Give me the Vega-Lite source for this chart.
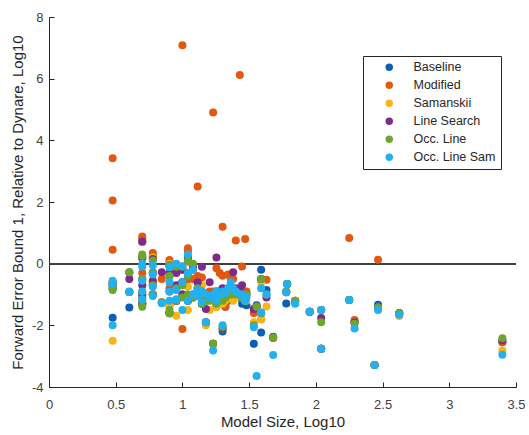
{
  "$schema": "https://vega.github.io/schema/vega-lite/v6.json",
  "autosize": "none",
  "width": 467,
  "height": 370,
  "padding": {"left": 49, "top": 17, "right": 13, "bottom": 48},
  "background": "white",
  "config": {
    "view": {"stroke": null},
    "font": "Liberation Sans",
    "axis": {
      "grid": false,
      "domainColor": "#262626",
      "tickColor": "#262626",
      "labelColor": "#404040",
      "titleColor": "#262626",
      "labelFont": "Liberation Sans",
      "titleFont": "Liberation Sans",
      "labelFontSize": 13,
      "titleFontSize": 15,
      "titleFontWeight": "normal",
      "tickSize": -5,
      "labelFlush": false
    },
    "legend": {
      "labelFont": "Liberation Sans",
      "labelFontSize": 12.5,
      "labelColor": "#262626"
    }
  },
  "data": {
    "values": [
      {"method":"Baseline","x":0.477,"y":-1.75},{"method":"Baseline","x":0.477,"y":-0.6},{"method":"Baseline","x":0.477,"y":-0.7},{"method":"Baseline","x":0.602,"y":-0.28},{"method":"Baseline","x":0.602,"y":-1.42},{"method":"Baseline","x":0.699,"y":0.7},{"method":"Baseline","x":0.699,"y":0.2},{"method":"Baseline","x":0.699,"y":-0.5},{"method":"Baseline","x":0.699,"y":-1.1},{"method":"Baseline","x":0.699,"y":-1.3},{"method":"Baseline","x":0.778,"y":0.2},{"method":"Baseline","x":0.778,"y":-0.3},{"method":"Baseline","x":0.778,"y":-0.7},{"method":"Baseline","x":0.778,"y":-1.0},{"method":"Baseline","x":0.845,"y":-1.25},{"method":"Baseline","x":0.903,"y":0.05},{"method":"Baseline","x":0.903,"y":-0.4},{"method":"Baseline","x":0.903,"y":-1.36},{"method":"Baseline","x":0.903,"y":-1.6},{"method":"Baseline","x":0.954,"y":-0.1},{"method":"Baseline","x":0.954,"y":-0.8},{"method":"Baseline","x":0.954,"y":-1.2},{"method":"Baseline","x":1.0,"y":-0.2},{"method":"Baseline","x":1.0,"y":-1.0},{"method":"Baseline","x":1.0,"y":-0.6},{"method":"Baseline","x":1.041,"y":0.2},{"method":"Baseline","x":1.041,"y":-0.5},{"method":"Baseline","x":1.041,"y":-1.2},{"method":"Baseline","x":1.079,"y":-0.1},{"method":"Baseline","x":1.079,"y":-1.1},{"method":"Baseline","x":1.114,"y":-1.0},{"method":"Baseline","x":1.114,"y":-0.8},{"method":"Baseline","x":1.146,"y":-0.9},{"method":"Baseline","x":1.146,"y":-1.3},{"method":"Baseline","x":1.176,"y":-1.2},{"method":"Baseline","x":1.176,"y":-1.9},{"method":"Baseline","x":1.204,"y":-1.1},{"method":"Baseline","x":1.23,"y":-2.6},{"method":"Baseline","x":1.23,"y":-1.0},{"method":"Baseline","x":1.255,"y":-0.9},{"method":"Baseline","x":1.255,"y":-1.3},{"method":"Baseline","x":1.279,"y":-1.0},{"method":"Baseline","x":1.301,"y":-2.2},{"method":"Baseline","x":1.301,"y":-0.9},{"method":"Baseline","x":1.322,"y":-1.4},{"method":"Baseline","x":1.342,"y":-1.2},{"method":"Baseline","x":1.362,"y":-1.1},{"method":"Baseline","x":1.38,"y":-0.9},{"method":"Baseline","x":1.4,"y":-1.0},{"method":"Baseline","x":1.43,"y":-1.1},{"method":"Baseline","x":1.447,"y":-1.3},{"method":"Baseline","x":1.47,"y":-1.3},{"method":"Baseline","x":1.48,"y":-1.35},{"method":"Baseline","x":1.535,"y":-2.6},{"method":"Baseline","x":1.556,"y":-1.35},{"method":"Baseline","x":1.59,"y":-0.2},{"method":"Baseline","x":1.59,"y":-2.23},{"method":"Baseline","x":1.63,"y":-0.85},{"method":"Baseline","x":1.68,"y":-2.37},{"method":"Baseline","x":1.778,"y":-1.29},{"method":"Baseline","x":1.785,"y":-0.66},{"method":"Baseline","x":1.845,"y":-1.2},{"method":"Baseline","x":1.954,"y":-1.56},{"method":"Baseline","x":2.04,"y":-1.5},{"method":"Baseline","x":2.04,"y":-2.76},{"method":"Baseline","x":2.25,"y":-1.18},{"method":"Baseline","x":2.29,"y":-1.9},{"method":"Baseline","x":2.44,"y":-3.29},{"method":"Baseline","x":2.466,"y":-1.33},{"method":"Baseline","x":2.625,"y":-1.61},{"method":"Baseline","x":3.398,"y":-2.55},
      {"method":"Modified","x":0.477,"y":3.42},{"method":"Modified","x":0.477,"y":2.05},{"method":"Modified","x":0.477,"y":0.45},{"method":"Modified","x":0.602,"y":-0.3},{"method":"Modified","x":0.602,"y":-0.92},{"method":"Modified","x":0.699,"y":0.88},{"method":"Modified","x":0.699,"y":0.8},{"method":"Modified","x":0.699,"y":-0.3},{"method":"Modified","x":0.699,"y":-0.9},{"method":"Modified","x":0.699,"y":-1.3},{"method":"Modified","x":0.778,"y":0.35},{"method":"Modified","x":0.778,"y":0.25},{"method":"Modified","x":0.778,"y":-0.6},{"method":"Modified","x":0.778,"y":-1.0},{"method":"Modified","x":0.845,"y":-0.5},{"method":"Modified","x":0.903,"y":0.12},{"method":"Modified","x":0.903,"y":-0.05},{"method":"Modified","x":0.903,"y":-0.8},{"method":"Modified","x":0.903,"y":-1.6},{"method":"Modified","x":0.954,"y":-0.15},{"method":"Modified","x":0.954,"y":-0.8},{"method":"Modified","x":0.954,"y":-1.2},{"method":"Modified","x":1.0,"y":7.08},{"method":"Modified","x":1.0,"y":-2.12},{"method":"Modified","x":1.0,"y":-0.6},{"method":"Modified","x":1.041,"y":0.5},{"method":"Modified","x":1.041,"y":0.4},{"method":"Modified","x":1.041,"y":-0.5},{"method":"Modified","x":1.079,"y":-0.2},{"method":"Modified","x":1.079,"y":-0.5},{"method":"Modified","x":1.114,"y":2.5},{"method":"Modified","x":1.114,"y":-0.4},{"method":"Modified","x":1.146,"y":-0.45},{"method":"Modified","x":1.146,"y":-1.2},{"method":"Modified","x":1.176,"y":-1.0},{"method":"Modified","x":1.176,"y":-1.95},{"method":"Modified","x":1.204,"y":-0.9},{"method":"Modified","x":1.23,"y":4.9},{"method":"Modified","x":1.23,"y":-0.9},{"method":"Modified","x":1.255,"y":-0.15},{"method":"Modified","x":1.255,"y":-1.4},{"method":"Modified","x":1.279,"y":-0.3},{"method":"Modified","x":1.301,"y":1.2},{"method":"Modified","x":1.301,"y":-0.39},{"method":"Modified","x":1.322,"y":-1.4},{"method":"Modified","x":1.342,"y":-0.35},{"method":"Modified","x":1.362,"y":-0.5},{"method":"Modified","x":1.38,"y":-0.5},{"method":"Modified","x":1.4,"y":0.75},{"method":"Modified","x":1.43,"y":6.12},{"method":"Modified","x":1.447,"y":-0.09},{"method":"Modified","x":1.47,"y":0.8},{"method":"Modified","x":1.48,"y":-0.9},{"method":"Modified","x":1.535,"y":-1.6},{"method":"Modified","x":1.556,"y":-1.4},{"method":"Modified","x":1.59,"y":-0.5},{"method":"Modified","x":1.59,"y":-1.8},{"method":"Modified","x":1.63,"y":-0.52},{"method":"Modified","x":1.68,"y":-2.4},{"method":"Modified","x":1.778,"y":-0.9},{"method":"Modified","x":1.785,"y":-0.66},{"method":"Modified","x":1.845,"y":-1.2},{"method":"Modified","x":1.954,"y":-1.56},{"method":"Modified","x":2.04,"y":-1.5},{"method":"Modified","x":2.04,"y":-2.76},{"method":"Modified","x":2.25,"y":0.83},{"method":"Modified","x":2.29,"y":-1.83},{"method":"Modified","x":2.44,"y":-3.29},{"method":"Modified","x":2.466,"y":0.13},{"method":"Modified","x":2.625,"y":-1.61},{"method":"Modified","x":3.398,"y":-2.55},
      {"method":"Samanskii","x":0.477,"y":-2.5},{"method":"Samanskii","x":0.477,"y":-0.62},{"method":"Samanskii","x":0.477,"y":-0.7},{"method":"Samanskii","x":0.602,"y":-0.3},{"method":"Samanskii","x":0.602,"y":-0.92},{"method":"Samanskii","x":0.699,"y":0.7},{"method":"Samanskii","x":0.699,"y":0.15},{"method":"Samanskii","x":0.699,"y":-0.5},{"method":"Samanskii","x":0.699,"y":-1.0},{"method":"Samanskii","x":0.699,"y":-1.3},{"method":"Samanskii","x":0.778,"y":0.2},{"method":"Samanskii","x":0.778,"y":-0.3},{"method":"Samanskii","x":0.778,"y":-0.7},{"method":"Samanskii","x":0.778,"y":-1.0},{"method":"Samanskii","x":0.845,"y":-1.25},{"method":"Samanskii","x":0.903,"y":0.0},{"method":"Samanskii","x":0.903,"y":-0.35},{"method":"Samanskii","x":0.903,"y":-1.36},{"method":"Samanskii","x":0.903,"y":-1.6},{"method":"Samanskii","x":0.954,"y":-0.1},{"method":"Samanskii","x":0.954,"y":-0.8},{"method":"Samanskii","x":0.954,"y":-1.69},{"method":"Samanskii","x":1.0,"y":-0.2},{"method":"Samanskii","x":1.0,"y":-1.0},{"method":"Samanskii","x":1.0,"y":-0.6},{"method":"Samanskii","x":1.041,"y":0.05},{"method":"Samanskii","x":1.041,"y":-0.75},{"method":"Samanskii","x":1.041,"y":-1.5},{"method":"Samanskii","x":1.079,"y":-0.1},{"method":"Samanskii","x":1.079,"y":-1.1},{"method":"Samanskii","x":1.114,"y":-1.0},{"method":"Samanskii","x":1.114,"y":-0.8},{"method":"Samanskii","x":1.146,"y":-0.7},{"method":"Samanskii","x":1.146,"y":-1.3},{"method":"Samanskii","x":1.176,"y":-1.2},{"method":"Samanskii","x":1.176,"y":-2.0},{"method":"Samanskii","x":1.204,"y":-1.5},{"method":"Samanskii","x":1.23,"y":-2.6},{"method":"Samanskii","x":1.23,"y":-1.2},{"method":"Samanskii","x":1.255,"y":-1.3},{"method":"Samanskii","x":1.255,"y":-1.4},{"method":"Samanskii","x":1.279,"y":-1.0},{"method":"Samanskii","x":1.301,"y":-2.1},{"method":"Samanskii","x":1.301,"y":-1.3},{"method":"Samanskii","x":1.322,"y":-1.2},{"method":"Samanskii","x":1.342,"y":-1.0},{"method":"Samanskii","x":1.362,"y":-1.1},{"method":"Samanskii","x":1.38,"y":-1.2},{"method":"Samanskii","x":1.4,"y":-1.1},{"method":"Samanskii","x":1.43,"y":-1.0},{"method":"Samanskii","x":1.447,"y":-1.1},{"method":"Samanskii","x":1.47,"y":-1.2},{"method":"Samanskii","x":1.48,"y":-1.2},{"method":"Samanskii","x":1.535,"y":-1.9},{"method":"Samanskii","x":1.556,"y":-1.4},{"method":"Samanskii","x":1.59,"y":-0.6},{"method":"Samanskii","x":1.59,"y":-1.8},{"method":"Samanskii","x":1.63,"y":-1.39},{"method":"Samanskii","x":1.68,"y":-2.4},{"method":"Samanskii","x":1.778,"y":-0.9},{"method":"Samanskii","x":1.785,"y":-0.66},{"method":"Samanskii","x":1.845,"y":-1.2},{"method":"Samanskii","x":1.954,"y":-1.56},{"method":"Samanskii","x":2.04,"y":-1.5},{"method":"Samanskii","x":2.04,"y":-2.76},{"method":"Samanskii","x":2.25,"y":-1.18},{"method":"Samanskii","x":2.29,"y":-1.9},{"method":"Samanskii","x":2.44,"y":-3.29},{"method":"Samanskii","x":2.466,"y":-1.42},{"method":"Samanskii","x":2.625,"y":-1.7},{"method":"Samanskii","x":3.398,"y":-2.82},
      {"method":"Line Search","x":0.477,"y":-0.8},{"method":"Line Search","x":0.477,"y":-0.62},{"method":"Line Search","x":0.477,"y":-0.68},{"method":"Line Search","x":0.602,"y":-0.5},{"method":"Line Search","x":0.602,"y":-0.92},{"method":"Line Search","x":0.699,"y":0.72},{"method":"Line Search","x":0.699,"y":0.2},{"method":"Line Search","x":0.699,"y":-0.7},{"method":"Line Search","x":0.699,"y":-1.0},{"method":"Line Search","x":0.699,"y":-1.3},{"method":"Line Search","x":0.778,"y":0.15},{"method":"Line Search","x":0.778,"y":-0.3},{"method":"Line Search","x":0.778,"y":-0.55},{"method":"Line Search","x":0.778,"y":-1.0},{"method":"Line Search","x":0.845,"y":-0.28},{"method":"Line Search","x":0.903,"y":-0.05},{"method":"Line Search","x":0.903,"y":-0.3},{"method":"Line Search","x":0.903,"y":-0.9},{"method":"Line Search","x":0.903,"y":-1.6},{"method":"Line Search","x":0.954,"y":-0.3},{"method":"Line Search","x":0.954,"y":-0.7},{"method":"Line Search","x":0.954,"y":-1.2},{"method":"Line Search","x":1.0,"y":-0.2},{"method":"Line Search","x":1.0,"y":-1.0},{"method":"Line Search","x":1.0,"y":-0.6},{"method":"Line Search","x":1.041,"y":0.1},{"method":"Line Search","x":1.041,"y":-0.4},{"method":"Line Search","x":1.041,"y":-1.2},{"method":"Line Search","x":1.079,"y":-0.1},{"method":"Line Search","x":1.079,"y":-1.0},{"method":"Line Search","x":1.114,"y":-1.0},{"method":"Line Search","x":1.114,"y":-0.6},{"method":"Line Search","x":1.146,"y":-0.1},{"method":"Line Search","x":1.146,"y":-1.3},{"method":"Line Search","x":1.176,"y":-1.47},{"method":"Line Search","x":1.176,"y":-1.9},{"method":"Line Search","x":1.204,"y":-0.6},{"method":"Line Search","x":1.23,"y":-2.6},{"method":"Line Search","x":1.23,"y":-1.0},{"method":"Line Search","x":1.255,"y":0.2},{"method":"Line Search","x":1.255,"y":-1.2},{"method":"Line Search","x":1.279,"y":-0.9},{"method":"Line Search","x":1.301,"y":-2.1},{"method":"Line Search","x":1.301,"y":-0.8},{"method":"Line Search","x":1.322,"y":-1.0},{"method":"Line Search","x":1.342,"y":-0.8},{"method":"Line Search","x":1.362,"y":-0.9},{"method":"Line Search","x":1.38,"y":-0.28},{"method":"Line Search","x":1.4,"y":-0.8},{"method":"Line Search","x":1.43,"y":-0.9},{"method":"Line Search","x":1.447,"y":-0.7},{"method":"Line Search","x":1.47,"y":-1.1},{"method":"Line Search","x":1.48,"y":-1.0},{"method":"Line Search","x":1.535,"y":-1.47},{"method":"Line Search","x":1.556,"y":-1.4},{"method":"Line Search","x":1.59,"y":-0.5},{"method":"Line Search","x":1.59,"y":-1.6},{"method":"Line Search","x":1.63,"y":-1.1},{"method":"Line Search","x":1.68,"y":-2.4},{"method":"Line Search","x":1.778,"y":-0.93},{"method":"Line Search","x":1.785,"y":-0.66},{"method":"Line Search","x":1.845,"y":-1.23},{"method":"Line Search","x":1.954,"y":-1.56},{"method":"Line Search","x":2.04,"y":-1.76},{"method":"Line Search","x":2.04,"y":-2.76},{"method":"Line Search","x":2.25,"y":-1.18},{"method":"Line Search","x":2.29,"y":-1.9},{"method":"Line Search","x":2.44,"y":-3.29},{"method":"Line Search","x":2.466,"y":-1.42},{"method":"Line Search","x":2.625,"y":-1.61},{"method":"Line Search","x":3.398,"y":-2.48},
      {"method":"Occ. Line","x":0.477,"y":-0.85},{"method":"Occ. Line","x":0.477,"y":-0.8},{"method":"Occ. Line","x":0.477,"y":-0.75},{"method":"Occ. Line","x":0.602,"y":-0.28},{"method":"Occ. Line","x":0.602,"y":-0.92},{"method":"Occ. Line","x":0.699,"y":0.3},{"method":"Occ. Line","x":0.699,"y":0.25},{"method":"Occ. Line","x":0.699,"y":-0.5},{"method":"Occ. Line","x":0.699,"y":-1.2},{"method":"Occ. Line","x":0.699,"y":-1.4},{"method":"Occ. Line","x":0.778,"y":0.1},{"method":"Occ. Line","x":0.778,"y":-0.28},{"method":"Occ. Line","x":0.778,"y":-0.7},{"method":"Occ. Line","x":0.778,"y":-1.0},{"method":"Occ. Line","x":0.845,"y":-1.25},{"method":"Occ. Line","x":0.903,"y":-0.05},{"method":"Occ. Line","x":0.903,"y":-0.4},{"method":"Occ. Line","x":0.903,"y":-1.5},{"method":"Occ. Line","x":0.903,"y":-1.62},{"method":"Occ. Line","x":0.954,"y":-0.1},{"method":"Occ. Line","x":0.954,"y":-0.8},{"method":"Occ. Line","x":0.954,"y":-1.2},{"method":"Occ. Line","x":1.0,"y":-0.1},{"method":"Occ. Line","x":1.0,"y":-1.1},{"method":"Occ. Line","x":1.0,"y":-0.7},{"method":"Occ. Line","x":1.041,"y":0.1},{"method":"Occ. Line","x":1.041,"y":-0.4},{"method":"Occ. Line","x":1.041,"y":-1.0},{"method":"Occ. Line","x":1.079,"y":0.0},{"method":"Occ. Line","x":1.079,"y":-1.1},{"method":"Occ. Line","x":1.114,"y":-1.0},{"method":"Occ. Line","x":1.114,"y":-0.8},{"method":"Occ. Line","x":1.146,"y":-0.9},{"method":"Occ. Line","x":1.146,"y":-1.3},{"method":"Occ. Line","x":1.176,"y":-1.2},{"method":"Occ. Line","x":1.176,"y":-1.9},{"method":"Occ. Line","x":1.204,"y":-1.2},{"method":"Occ. Line","x":1.23,"y":-2.6},{"method":"Occ. Line","x":1.23,"y":-1.1},{"method":"Occ. Line","x":1.255,"y":-0.9},{"method":"Occ. Line","x":1.255,"y":-1.3},{"method":"Occ. Line","x":1.279,"y":-1.0},{"method":"Occ. Line","x":1.301,"y":-2.05},{"method":"Occ. Line","x":1.301,"y":-1.2},{"method":"Occ. Line","x":1.322,"y":-1.1},{"method":"Occ. Line","x":1.342,"y":-1.0},{"method":"Occ. Line","x":1.362,"y":-1.0},{"method":"Occ. Line","x":1.38,"y":-0.9},{"method":"Occ. Line","x":1.4,"y":-1.0},{"method":"Occ. Line","x":1.43,"y":-1.0},{"method":"Occ. Line","x":1.447,"y":-1.1},{"method":"Occ. Line","x":1.47,"y":-1.2},{"method":"Occ. Line","x":1.48,"y":-1.0},{"method":"Occ. Line","x":1.535,"y":-2.0},{"method":"Occ. Line","x":1.556,"y":-1.4},{"method":"Occ. Line","x":1.59,"y":-0.5},{"method":"Occ. Line","x":1.59,"y":-1.6},{"method":"Occ. Line","x":1.63,"y":-1.0},{"method":"Occ. Line","x":1.68,"y":-2.4},{"method":"Occ. Line","x":1.778,"y":-0.9},{"method":"Occ. Line","x":1.785,"y":-0.66},{"method":"Occ. Line","x":1.845,"y":-1.23},{"method":"Occ. Line","x":1.954,"y":-1.56},{"method":"Occ. Line","x":2.04,"y":-1.9},{"method":"Occ. Line","x":2.04,"y":-2.76},{"method":"Occ. Line","x":2.25,"y":-1.18},{"method":"Occ. Line","x":2.29,"y":-1.95},{"method":"Occ. Line","x":2.44,"y":-3.29},{"method":"Occ. Line","x":2.466,"y":-1.42},{"method":"Occ. Line","x":2.625,"y":-1.61},{"method":"Occ. Line","x":3.398,"y":-2.42},
      {"method":"Occ. Line Sam","x":0.477,"y":-2.0},{"method":"Occ. Line Sam","x":0.477,"y":-0.55},{"method":"Occ. Line Sam","x":0.477,"y":-0.65},{"method":"Occ. Line Sam","x":0.602,"y":-0.9},{"method":"Occ. Line Sam","x":0.602,"y":-0.92},{"method":"Occ. Line Sam","x":0.699,"y":0.0},{"method":"Occ. Line Sam","x":0.699,"y":-0.1},{"method":"Occ. Line Sam","x":0.699,"y":-0.55},{"method":"Occ. Line Sam","x":0.699,"y":-1.15},{"method":"Occ. Line Sam","x":0.699,"y":-0.9},{"method":"Occ. Line Sam","x":0.778,"y":-0.05},{"method":"Occ. Line Sam","x":0.778,"y":-0.35},{"method":"Occ. Line Sam","x":0.778,"y":-0.75},{"method":"Occ. Line Sam","x":0.778,"y":-1.05},{"method":"Occ. Line Sam","x":0.845,"y":-1.28},{"method":"Occ. Line Sam","x":0.903,"y":-0.12},{"method":"Occ. Line Sam","x":0.903,"y":-0.6},{"method":"Occ. Line Sam","x":0.903,"y":-0.9},{"method":"Occ. Line Sam","x":0.903,"y":-1.2},{"method":"Occ. Line Sam","x":0.954,"y":0.0},{"method":"Occ. Line Sam","x":0.954,"y":-0.85},{"method":"Occ. Line Sam","x":0.954,"y":-1.15},{"method":"Occ. Line Sam","x":1.0,"y":-0.08},{"method":"Occ. Line Sam","x":1.0,"y":-1.5},{"method":"Occ. Line Sam","x":1.0,"y":-0.6},{"method":"Occ. Line Sam","x":1.041,"y":0.3},{"method":"Occ. Line Sam","x":1.041,"y":-0.3},{"method":"Occ. Line Sam","x":1.041,"y":-1.2},{"method":"Occ. Line Sam","x":1.079,"y":-0.2},{"method":"Occ. Line Sam","x":1.079,"y":-1.0},{"method":"Occ. Line Sam","x":1.114,"y":-1.05},{"method":"Occ. Line Sam","x":1.114,"y":-0.85},{"method":"Occ. Line Sam","x":1.146,"y":-0.9},{"method":"Occ. Line Sam","x":1.146,"y":-1.25},{"method":"Occ. Line Sam","x":1.176,"y":-1.0},{"method":"Occ. Line Sam","x":1.176,"y":-1.9},{"method":"Occ. Line Sam","x":1.204,"y":-1.1},{"method":"Occ. Line Sam","x":1.23,"y":-2.82},{"method":"Occ. Line Sam","x":1.23,"y":-1.0},{"method":"Occ. Line Sam","x":1.255,"y":-0.9},{"method":"Occ. Line Sam","x":1.255,"y":-1.2},{"method":"Occ. Line Sam","x":1.279,"y":-1.0},{"method":"Occ. Line Sam","x":1.301,"y":-2.0},{"method":"Occ. Line Sam","x":1.301,"y":-0.9},{"method":"Occ. Line Sam","x":1.322,"y":-0.95},{"method":"Occ. Line Sam","x":1.342,"y":-0.8},{"method":"Occ. Line Sam","x":1.362,"y":-0.6},{"method":"Occ. Line Sam","x":1.38,"y":-0.8},{"method":"Occ. Line Sam","x":1.4,"y":-0.9},{"method":"Occ. Line Sam","x":1.43,"y":-1.0},{"method":"Occ. Line Sam","x":1.447,"y":-1.0},{"method":"Occ. Line Sam","x":1.47,"y":-1.2},{"method":"Occ. Line Sam","x":1.48,"y":-1.1},{"method":"Occ. Line Sam","x":1.535,"y":-2.06},{"method":"Occ. Line Sam","x":1.556,"y":-3.64},{"method":"Occ. Line Sam","x":1.59,"y":-0.8},{"method":"Occ. Line Sam","x":1.59,"y":-1.58},{"method":"Occ. Line Sam","x":1.63,"y":-1.0},{"method":"Occ. Line Sam","x":1.68,"y":-2.96},{"method":"Occ. Line Sam","x":1.778,"y":-0.93},{"method":"Occ. Line Sam","x":1.785,"y":-0.66},{"method":"Occ. Line Sam","x":1.845,"y":-1.3},{"method":"Occ. Line Sam","x":1.954,"y":-1.56},{"method":"Occ. Line Sam","x":2.04,"y":-1.5},{"method":"Occ. Line Sam","x":2.04,"y":-2.76},{"method":"Occ. Line Sam","x":2.25,"y":-1.18},{"method":"Occ. Line Sam","x":2.29,"y":-2.1},{"method":"Occ. Line Sam","x":2.44,"y":-3.29},{"method":"Occ. Line Sam","x":2.466,"y":-1.5},{"method":"Occ. Line Sam","x":2.625,"y":-1.66},{"method":"Occ. Line Sam","x":3.398,"y":-2.95}
    ]
  },
  "layer": [
    {
      "mark": {"type": "rule", "color": "#404040", "strokeWidth": 1},
      "encoding": {"y": {"datum": 0, "type": "quantitative"}}
    },
    {
      "mark": {"type": "point", "filled": true, "shape": "circle", "size": 64, "opacity": 1, "strokeWidth": 0},
      "encoding": {
        "x": {
          "field": "x", "type": "quantitative",
          "scale": {"domain": [0, 3.5], "nice": false, "zero": false},
          "axis": {"title": "Model Size, Log10", "values": [0, 0.5, 1, 1.5, 2, 2.5, 3, 3.5], "format": "~g", "labelPadding": 16, "titlePadding": 3}
        },
        "y": {
          "field": "y", "type": "quantitative",
          "scale": {"domain": [-4, 8], "nice": false, "zero": false},
          "axis": {"title": "Forward Error Bound 1, Relative to Dynare, Log10", "values": [-4, -2, 0, 2, 4, 6, 8], "labelExpr": "datum.value < 0 ? '-' + abs(datum.value) : '' + datum.value", "labelPadding": 11, "titlePadding": 6}
        },
        "color": {
          "field": "method", "type": "nominal",
          "scale": {
            "domain": ["Baseline", "Modified", "Samanskii", "Line Search", "Occ. Line", "Occ. Line Sam"],
            "range": ["#0a5fb4", "#e3580e", "#fbb315", "#7d2a8b", "#6ea52b", "#22b0f0"]
          },
          "legend": {
            "title": null,
            "orient": "none",
            "legendX": 314,
            "legendY": 39,
            "fillColor": "white",
            "strokeColor": "#262626",
            "padding": 5,
            "symbolOffset": 15,
            "symbolSize": 55,
            "symbolType": "circle",
            "symbolStrokeWidth": 0,
            "labelOffset": 18,
            "rowPadding": 5
          }
        }
      }
    }
  ]
}
